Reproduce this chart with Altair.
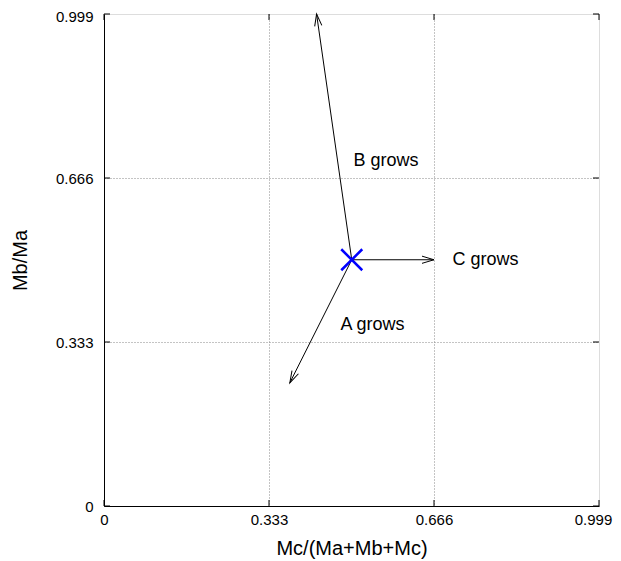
import math
import altair as alt
import pandas as pd

# ---- data ----
tick_values = [0, 0.333, 0.666, 0.999]
center_x = [0.5]
center_y = [0.5]
arrow_names = ["A", "B", "C"]
arrow_x = [0.375, 0.429, 0.666]
arrow_y = [0.25, 0.999, 0.5]
label_text = ["A grows", "B grows", "C grows"]
label_x = [0.542, 0.569, 0.770]
label_y = [0.368, 0.700, 0.500]

FONT = "Liberation Sans"
W, H = 495, 492
xscale = alt.Scale(domain=[0, 0.999], nice=False, zero=False)
yscale = alt.Scale(domain=[0, 0.999], nice=False, zero=False)

arrows = pd.DataFrame({
    "name": arrow_names,
    "x0": center_x * 3,
    "y0": center_y * 3,
    "x1": arrow_x,
    "y1": arrow_y,
})
arrows["angle"] = [
    (math.degrees(math.atan2((x1 - x0) * W, (y1 - y0) * H)) + 360) % 360
    for x0, y0, x1, y1 in zip(arrows.x0, arrows.y0, arrows.x1, arrows.y1)
]

grid_cond = {"condition": {"test": "datum.value < 0.01 || datum.value > 0.99", "value": 0}, "value": 1}
last_shift_x = {"condition": {"test": "datum.value > 0.99", "value": -6}, "value": 0}
last_shift_y = {"condition": {"test": "datum.value > 0.99", "value": 2}, "value": 0}

xaxis = alt.Axis(values=tick_values, format=".3~f", title="Mc/(Ma+Mb+Mc)",
                 ticks=False, labelPadding=6, labelFontSize=15, labelFont=FONT,
                 labelColor="black", titleFont=FONT, titleFontSize=20,
                 titleFontWeight="normal", titleColor="black", titlePadding=11,
                 grid=True, gridDash=[1, 2], gridColor="#888888", gridOpacity=grid_cond,
                 domainColor="black", labelFlush=False, labelOffset=last_shift_x)
yaxis = alt.Axis(values=tick_values, format=".3~f", title="Mb/Ma",
                 ticks=False, labelPadding=11, labelFontSize=15, labelFont=FONT,
                 labelColor="black", titleFont=FONT, titleFontSize=20,
                 titleFontWeight="normal", titleColor="black", titlePadding=25,
                 grid=True, gridDash=[1, 2], gridColor="#888888", gridOpacity=grid_cond,
                 domainColor="black", labelFlush=False, labelOffset=last_shift_y)

lines = alt.Chart(arrows).mark_rule(color="black", strokeWidth=1).encode(
    x=alt.X("x0:Q", scale=xscale, axis=xaxis),
    y=alt.Y("y0:Q", scale=yscale, axis=yaxis),
    x2="x1:Q",
    y2="y1:Q",
)

heads = alt.Chart(arrows).mark_point(
    shape="M-0.3,1L0,0L0.3,1", filled=False, stroke="black", strokeWidth=1,
    size=576, opacity=1,
).encode(
    x=alt.X("x1:Q", scale=xscale),
    y=alt.Y("y1:Q", scale=yscale),
    angle=alt.Angle("angle:Q", scale=None),
)

center = alt.Chart(pd.DataFrame({"x": center_x, "y": center_y})).mark_point(
    shape="M-1,-1L1,1M-1,1L1,-1", filled=False, stroke="#0000ff", strokeWidth=2.5,
    size=441, opacity=1,
).encode(x=alt.X("x:Q", scale=xscale), y=alt.Y("y:Q", scale=yscale))

labels = alt.Chart(pd.DataFrame({"t": label_text, "x": label_x, "y": label_y})).mark_text(
    font=FONT, fontSize=18, color="black", align="center", baseline="middle",
).encode(x=alt.X("x:Q", scale=xscale), y=alt.Y("y:Q", scale=yscale), text="t:N")

# inward tick marks on all four sides
tick_len = 144
left_t = alt.Chart(pd.DataFrame({"v": tick_values})).mark_point(
    shape="M0,0L1,0", filled=False, stroke="black", strokeWidth=1, size=tick_len, opacity=1
).encode(x=alt.value(0), y=alt.Y("v:Q", scale=yscale))
right_t = alt.Chart(pd.DataFrame({"v": tick_values})).mark_point(
    shape="M0,0L-1,0", filled=False, stroke="black", strokeWidth=1, size=tick_len, opacity=1
).encode(x=alt.value(W), y=alt.Y("v:Q", scale=yscale))
bottom_t = alt.Chart(pd.DataFrame({"v": tick_values})).mark_point(
    shape="M0,0L0,-1", filled=False, stroke="black", strokeWidth=1, size=tick_len, opacity=1
).encode(y=alt.value(H), x=alt.X("v:Q", scale=xscale))
top_t = alt.Chart(pd.DataFrame({"v": tick_values})).mark_point(
    shape="M0,0L0,1", filled=False, stroke="black", strokeWidth=1, size=tick_len, opacity=1
).encode(y=alt.value(0), x=alt.X("v:Q", scale=xscale))

chart = alt.layer(lines, heads, labels, left_t, right_t, bottom_t, top_t, center).properties(
    width=W, height=H,
    autosize=alt.AutoSizeParams(type="none"),
    padding={"left": 96, "top": 6, "right": 14, "bottom": 54},
).configure_view(stroke="black", strokeWidth=1).configure(background="white")

chart.save("out.html", embed_options={"renderer": "svg", "actions": False})
